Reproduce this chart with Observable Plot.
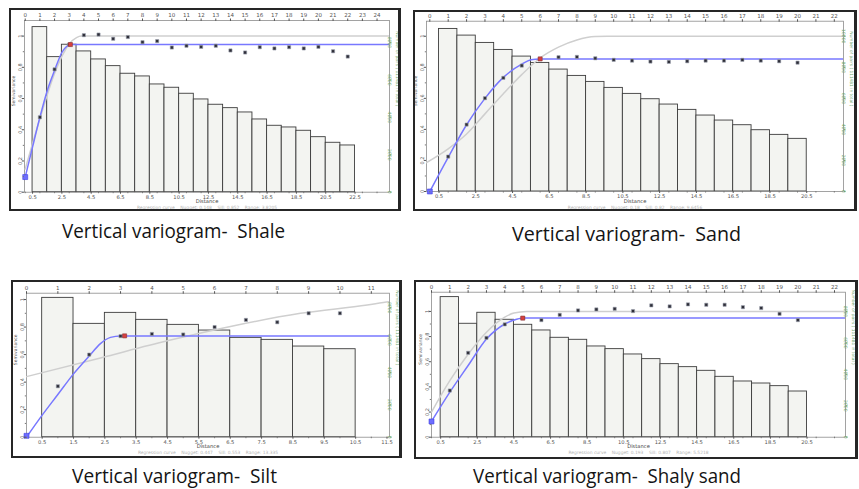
<!DOCTYPE html>
<html><head><meta charset="utf-8">
<script src="https://cdn.jsdelivr.net/npm/d3@7"></script>
<script src="https://cdn.jsdelivr.net/npm/@observablehq/plot@0.6"></script>
<style>
html,body{margin:0;padding:0;background:#fff}
body{width:859px;height:489px;overflow:hidden;position:relative}
.panel{position:absolute}
.panel svg{display:block}
.border{position:absolute;box-sizing:border-box;border:2px solid #262626;border-right-width:3px;pointer-events:none}
#caps{position:absolute;left:0;top:0}
</style></head><body>
<script>
// ---------------- Shale ----------------
const shaleLags  = [1,2,3,4,5,6,7,8,9,10,11,12,13,14,15,16,17,18,19,20,21,22];
const shaleGamma = [0.48,0.787,0.946,1.006,1.01,0.983,0.994,0.961,0.968,0.927,0.938,0.931,0.938,0.908,0.895,0.929,0.921,0.929,0.921,0.931,0.903,0.869];
const shalePairs = [8818,7214,7877,7519,7091,6733,6327,6183,5755,5579,5258,4954,4671,4489,4259,3885,3548,3458,3281,2939,2640,2496];
const shaleNugget = [0, 0.097];
const shaleRangePt = [3.08, 0.946];
const shaleModelDist  = [0,0.5,1,1.5,2,2.5,3,3.1,25];
const shaleModelGamma = [0.097,0.29,0.48,0.65,0.78,0.895,0.944,0.946,0.946];
const shaleRegDist  = [0,1,2,2.5,3,3.5,3.82,25];
const shaleRegGamma = [0.148,0.47,0.76,0.87,0.95,0.99,1.0,1.0];
const shaleTopTicks = [0,1,2,3,4,5,6,7,8,9,10,11,12,13,14,15,16,17,18,19,20,21,22,23,24];
const shaleBottomTicks = [0.5,2.5,4.5,6.5,8.5,10.5,12.5,14.5,16.5,18.5,20.5,22.5];
const shalePairTicks = [0,2000,4000,6000,8000];
const shalePairsPerUnit = 8337;
const shaleNote = "Regression curve    Nugget: 0.148    Sill: 0.852    Range: 3.8205";

// ---------------- Sand ----------------
const sandLags  = [1,2,3,4,5,6,7,8,9,10,11,12,13,14,15,16,17,18,19,20];
const sandGamma = [0.225,0.431,0.601,0.732,0.811,0.854,0.865,0.867,0.858,0.848,0.843,0.837,0.835,0.839,0.843,0.843,0.848,0.843,0.839,0.830];
const sandPairs = [10472,10043,9571,9120,8691,8283,7854,7446,7060,6674,6288,5944,5601,5258,4893,4571,4270,3948,3648,3391];
const sandNugget = [0, 0.0];
const sandRangePt = [6.0, 0.854];
const sandModelDist  = [0,1,2,3,4,5,5.5,6,23];
const sandModelGamma = [0,0.22,0.43,0.60,0.735,0.82,0.848,0.854,0.854];
const sandRegDist  = [-0.2,1,2,3,4,5,6,7,8,9,9.65,23];
const sandRegGamma = [0.185,0.275,0.37,0.5,0.63,0.753,0.86,0.93,0.976,0.998,1.0,1.0];
const sandTopTicks = [0,1,2,3,4,5,6,7,8,9,10,11,12,13,14,15,16,17,18,19,20,21,22];
const sandBottomTicks = [0.5,2.5,4.5,6.5,8.5,10.5,12.5,14.5,16.5,18.5,20.5];
const sandPairTicks = [0,2000,4000,6000,8000,10000];
const sandPairsPerUnit = 10000;
const sandNote = "Regression curve    Nugget: 0.18    Sill: 0.82    Range: 9.6456";

// ---------------- Silt ----------------
const siltLags  = [1,2,3,4,5,6,7,8,9,10];
const siltGamma = [0.37,0.60,0.734,0.75,0.746,0.80,0.852,0.835,0.90,0.90];
const siltPairs = [8603,6998,7677,7245,6936,6586,6133,6010,5598,5433];
const siltNugget = [0, 0.01];
const siltRangePt = [3.13, 0.736];
const siltModelDist  = [0,0.5,1,1.5,2,2.36,2.68,3.0,12];
const siltModelGamma = [0,0.16,0.31,0.46,0.59,0.68,0.725,0.736,0.736];
const siltRegDist  = [0,2.36,4.49,6.62,8.74,10.87,11.58,12];
const siltRegGamma = [0.44,0.576,0.70,0.81,0.90,0.96,0.985,0.99];
const siltTopTicks = [0,1,2,3,4,5,6,7,8,9,10,11];
const siltBottomTicks = [0.5,1.5,2.5,3.5,4.5,5.5,6.5,7.5,8.5,9.5,10.5,11.5];
const siltPairTicks = [0,2000,4000,6000,8000];
const siltPairsPerUnit = 8500;
const siltNote = "Regression curve    Nugget: 0.447    Sill: 0.553    Range: 13.335";

// ---------------- Shaly sand ----------------
const shalySandLags  = [1,2,3,4,5,6,7,8,9,10,11,12,13,14,15,16,17,18,19,20];
const shalySandGamma = [0.371,0.671,0.79,0.897,0.947,0.931,0.973,1.008,1.016,1.021,1.003,1.048,1.04,1.056,1.053,1.053,1.034,1.027,0.981,0.931];
const shalySandPairs = [8912,7215,7915,7470,7151,6790,6324,6196,5772,5602,5263,4966,4647,4456,4223,3841,3544,3416,3247,2907];
const shalySandNugget = [0, 0.125];
const shalySandRangePt = [4.98, 0.947];
const shalySandModelDist  = [0,1,2,3,4,4.7,5,23];
const shalySandModelGamma = [0.125,0.358,0.57,0.78,0.90,0.94,0.947,0.947];
const shalySandRegDist  = [0,1,2,3,4,4.5,5.2,23];
const shalySandRegGamma = [0.20,0.45,0.66,0.835,0.955,0.987,1.0,1.0];
const shalySandTopTicks = [0,1,2,3,4,5,6,7,8,9,10,11,12,13,14,15,16,17,18,19,20,21,22];
const shalySandBottomTicks = [0.5,2.5,4.5,6.5,8.5,10.5,12.5,14.5,16.5,18.5,20.5];
const shalySandPairTicks = [0,2000,4000,6000,8000];
const shalySandPairsPerUnit = 8000;
const shalySandNote = "Regression curve    Nugget: 0.193    Sill: 0.807    Range: 5.5218";

const semivarTicks = [0,0.2,0.4,0.6,0.8,1];
const semivarMinorTicks = [0.1,0.3,0.5,0.7,0.9];
const captions = ["Vertical variogram-  Shale","Vertical variogram-  Sand","Vertical variogram-  Silt","Vertical variogram-  Shaly sand"];

// ---------------- drawing ----------------
function panel(c) {
  const k = c.k;
  const green = "#6fa86f";
  const fmt = v => String(v);
  return Plot.plot({
    width: c.w, height: c.h,
    marginLeft: c.ml, marginRight: c.mr, marginTop: c.mt, marginBottom: c.mb,
    x: {domain: c.xd},
    y: {domain: c.yd},
    style: {fontFamily: "'DejaVu Sans', sans-serif", fontSize: "5px", background: "transparent", overflow: "visible"},
    marks: [
      Plot.rect(c.lags, {x1: d => d - 0.5, x2: d => d + 0.5, y1: () => 0, y2: (d, i) => c.pairs[i] / k,
        fill: "#f3f4f1", stroke: "#3c3c3c", strokeWidth: 0.9}),
      Plot.frame({stroke: "#8c8c8c", strokeWidth: 0.8}),
      Plot.line(c.regDist, {x: d => d, y: (d, i) => c.regGamma[i], stroke: "#cfcfcf", strokeWidth: 1.5, curve: "monotone-x", clip: true}),
      Plot.line(c.modelDist, {x: d => d, y: (d, i) => c.modelGamma[i], stroke: "#7878ff", strokeWidth: 1.5, curve: "monotone-x", clip: true}),
      Plot.dot(c.lags, {x: d => d, y: (d, i) => c.gamma[i], symbol: "square", r: 1.8, fill: "#2e2e38", stroke: "#9ea3b0", strokeWidth: 0.6}),
      Plot.dot([c.rangePt], {x: d => d[0], y: d => d[1], symbol: "square", r: 2.3, fill: "#d8403f", stroke: "#8a3333", strokeWidth: 0.6}),
      Plot.dot([c.nugget], {x: d => d[0], y: d => d[1], symbol: "square", r: 2.8, fill: "#6e6eff", stroke: "#4040e0", strokeWidth: 0.6}),
      // top axis
      Plot.axisX(c.topTicks, {anchor: "top", tickSize: 2.5, tickPadding: 1, fontSize: 5.5, color: "#555", label: null, tickFormat: fmt}),
      // bottom axis: labels at bar edges, minor ticks at lag centres
      Plot.axisX(c.bottomTicks, {anchor: "bottom", tickSize: 2, tickPadding: 1, fontSize: 5.2, color: "#555", label: null, tickFormat: fmt}),
      Plot.axisX(c.topTicks, {anchor: "bottom", tickSize: 1.5, color: "#777", label: null, tickFormat: () => ""}),
      // left axis
      Plot.axisY(semivarTicks, {anchor: "left", tickSize: 2, tickPadding: 1, tickRotate: -90, fontSize: 5, color: "#555", label: null, tickFormat: fmt}),
      Plot.axisY(semivarMinorTicks, {anchor: "left", tickSize: 1.2, color: "#777", label: null, tickFormat: () => ""}),
      // right axis (number of pairs)
      Plot.axisY(c.pairTicks.map(v => v / k), {anchor: "right", tickSize: 1.5, tickPadding: 0.5, tickRotate: 90, fontSize: 4.5,
        tickFormat: v => String(Math.round(v * k)), color: green, label: null}),
      Plot.text(["Semivariance"], {frameAnchor: "left", dx: -10.5, rotate: -90, fontSize: 4.5, fill: "#555"}),
      Plot.text(["Number of pairs ( 111481 in total )"], {frameAnchor: "right", dx: 7.5, rotate: 90, fontSize: 4.3, fill: green}),
      Plot.text(["Distance"], {frameAnchor: "bottom", dy: 11, fontSize: 5.2, fill: "#444"}),
      Plot.text([c.note], {frameAnchor: "bottom", dy: 17, fontSize: 4.4, fill: "#b4b4b4"})
    ]
  });
}

const panels = [
  {left: 9, top: 8, w: 392, h: 203, ml: 15, mr: 12, mt: 12, mb: 19.3, xd: [-0.05, 24.85], yd: [0, 1.10],
   lags: shaleLags, gamma: shaleGamma, pairs: shalePairs, nugget: shaleNugget, rangePt: shaleRangePt,
   modelDist: shaleModelDist, modelGamma: shaleModelGamma, regDist: shaleRegDist, regGamma: shaleRegGamma,
   topTicks: shaleTopTicks, bottomTicks: shaleBottomTicks, pairTicks: shalePairTicks, k: shalePairsPerUnit, note: shaleNote},
  {left: 413, top: 10, w: 444, h: 201, ml: 13, mr: 14, mt: 10.7, mb: 20, xd: [-0.18, 22.5], yd: [0, 1.097],
   lags: sandLags, gamma: sandGamma, pairs: sandPairs, nugget: sandNugget, rangePt: sandRangePt,
   modelDist: sandModelDist, modelGamma: sandModelGamma, regDist: sandRegDist, regGamma: sandRegGamma,
   topTicks: sandTopTicks, bottomTicks: sandBottomTicks, pairTicks: sandPairTicks, k: sandPairsPerUnit, note: sandNote},
  {left: 11, top: 280, w: 391, h: 178, ml: 15, mr: 13, mt: 12.7, mb: 21.3, xd: [0, 11.58], yd: [0, 1.046],
   lags: siltLags, gamma: siltGamma, pairs: siltPairs, nugget: siltNugget, rangePt: siltRangePt,
   modelDist: siltModelDist, modelGamma: siltModelGamma, regDist: siltRegDist, regGamma: siltRegGamma,
   topTicks: siltTopTicks, bottomTicks: siltBottomTicks, pairTicks: siltPairTicks, k: siltPairsPerUnit, note: siltNote},
  {left: 414, top: 280, w: 444, h: 179, ml: 17, mr: 13, mt: 11.7, mb: 22.3, xd: [0, 22.6], yd: [0, 1.153],
   lags: shalySandLags, gamma: shalySandGamma, pairs: shalySandPairs, nugget: shalySandNugget, rangePt: shalySandRangePt,
   modelDist: shalySandModelDist, modelGamma: shalySandModelGamma, regDist: shalySandRegDist, regGamma: shalySandRegGamma,
   topTicks: shalySandTopTicks, bottomTicks: shalySandBottomTicks, pairTicks: shalySandPairTicks, k: shalySandPairsPerUnit, note: shalySandNote}
];

for (const c of panels) {
  const div = document.createElement("div");
  div.className = "panel";
  div.style.left = c.left + "px"; div.style.top = c.top + "px";
  div.appendChild(panel(c));
  document.body.appendChild(div);
  const b = document.createElement("div");
  b.className = "border";
  b.style.left = c.left + "px"; b.style.top = c.top + "px";
  b.style.width = c.w + "px"; b.style.height = c.h + "px";
  document.body.appendChild(b);
}

// captions below each panel
const capPos = [
  {x: 62, y: 237.7, w: 223},
  {x: 512, y: 240.7, w: 229},
  {x: 72, y: 483.3, w: 205},
  {x: 473, y: 483.3, w: 268}
];
const NS = "http://www.w3.org/2000/svg";
const capSvg = document.createElementNS(NS, "svg");
capSvg.setAttribute("id", "caps");
capSvg.setAttribute("width", 859); capSvg.setAttribute("height", 489);
captions.forEach((t, i) => {
  const el = document.createElementNS(NS, "text");
  el.setAttribute("x", capPos[i].x); el.setAttribute("y", capPos[i].y);
  el.setAttribute("textLength", capPos[i].w);
  el.setAttribute("lengthAdjust", "spacingAndGlyphs");
  el.setAttribute("font-family", "'Open Sans', sans-serif");
  el.setAttribute("font-size", 20);
  el.setAttribute("fill", "#141414");
  el.style.whiteSpace = "pre";
  el.textContent = t;
  capSvg.appendChild(el);
});
document.body.appendChild(capSvg);
</script>
</body></html>
